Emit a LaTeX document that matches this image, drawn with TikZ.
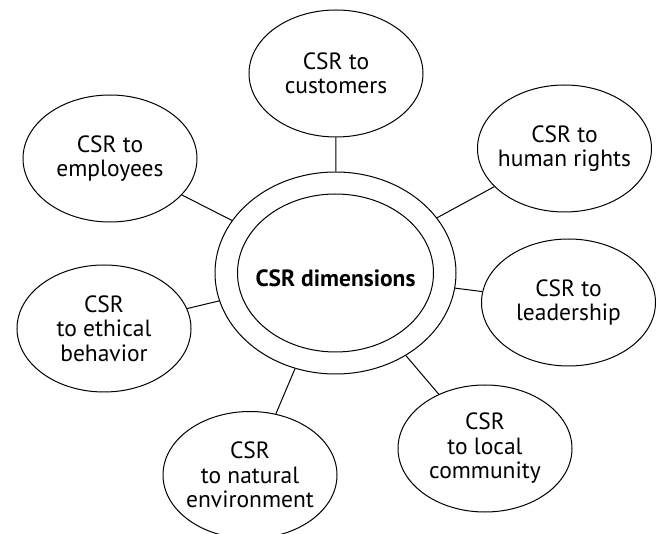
\documentclass[tikz,border=0pt]{standalone}
\usepackage{fontspec}
\setmainfont{PT Sans}
\usetikzlibrary{shapes.geometric}
\newcommand{\dimfont}{\fontsize{23.5}{24.5}\selectfont}
\newcommand{\lowstrut}{\rule{0pt}{27pt}}

\begin{document}
\begin{tikzpicture}[x=1pt, y=-1pt]
\tikzstyle{dimstyle}=[ellipse, draw, line width=1pt, minimum width=174pt, minimum height=127pt, inner xsep=-40pt, inner ysep=-20pt, align=center, font=\dimfont, execute at begin node=\lowstrut]
\tikzstyle{hubstyle}=[ellipse, draw, line width=1pt, minimum width=241pt, minimum height=202pt, inner sep=0pt]
\tikzstyle{corestyle}=[ellipse, draw, line width=1pt, minimum width=196pt, minimum height=158pt, inner xsep=-40pt, inner ysep=-20pt, font=\bfseries\dimfont, execute at begin node=\lowstrut]
\tikzstyle{link}=[line width=1pt]

\useasboundingbox (0,0) rectangle (659,534);

\coordinate (H) at (335.5,273);

% hub
\node[hubstyle] (hub) at (H) {};
\node[corestyle] (core) at (H) {CSR dimensions};

% dimensions
\node[dimstyle] (customers) at (336,73.5) {CSR to\\customers};
\node[dimstyle] (rights) at (564.5,148.5) {CSR to\\human rights};
\node[dimstyle] (employees) at (110,158.5) {CSR to\\employees};
\node[dimstyle] (leadership) at (568.5,302.5) {CSR to\\leadership};
\node[dimstyle] (ethical) at (104,328.5) {CSR\\to ethical\\behavior};
\node[dimstyle] (environment) at (250,475) {CSR\\to natural\\environment};
\node[dimstyle] (community) at (485,448.5) {CSR\\to local\\community};

% links
\foreach \d in {customers,rights,employees,leadership,ethical,environment,community}
  \draw[link] (hub) -- (\d);
\end{tikzpicture}
\end{document}
